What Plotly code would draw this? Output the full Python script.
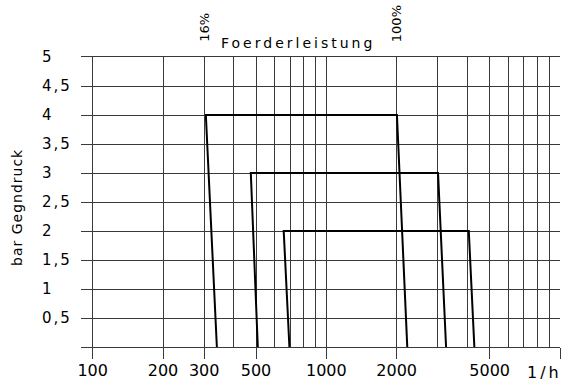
import plotly.graph_objects as go
import math

# Data
curve_pressure = [4, 3, 2]
curve_x = [
    [340, 305, 2005, 2220],
    [509, 475, 3006, 3254],
    [695, 657, 4070, 4300],
]
curve_y = [
    [0, 4, 4, 0],
    [0, 3, 3, 0],
    [0, 2, 2, 0],
]
x_tick_vals = [100, 200, 300, 500, 1000, 2000, 5000, 10000]
x_tick_text = ["100", "200", "300", "500", "1000", "2000", "5000", ""]
x_grid_minor = [400, 600, 700, 800, 900, 3000, 4000, 6000, 7000, 8000, 9000]
y_tick_vals = [0.5, 1, 1.5, 2, 2.5, 3, 3.5, 4, 4.5, 5]
y_tick_text = ["0,5", "1", "1,5", "2", "2,5", "3", "3,5", "4", "4,5", "5"]
pct_labels = [("16%", 300), ("100%", 2000)]

FONT = "DejaVu Sans"
GRID = "#3a3a3a"

fig = go.Figure()
for xs, ys in zip(curve_x, curve_y):
    fig.add_trace(go.Scatter(x=xs, y=ys, mode="lines",
                             line=dict(color="black", width=2),
                             showlegend=False, hoverinfo="skip"))

fig.update_layout(
    template="none",
    width=568, height=383,
    margin=dict(l=81, r=8, t=57, b=36, autoexpand=False),
    paper_bgcolor="white", plot_bgcolor="white",
    font=dict(family=FONT, color="black"),
    showlegend=False,
)
fig.update_xaxes(
    type="log", range=[1.95, 4.0], automargin=False,
    tickmode="array", tickvals=x_tick_vals, ticktext=x_tick_text,
    ticks="outside", ticklen=11, tickcolor=GRID, tickwidth=1,
    ticklabelstandoff=-2,
    tickfont=dict(family=FONT, size=16, color="black"),
    showgrid=True, gridcolor=GRID, gridwidth=1,
    minor=dict(tickmode="array", tickvals=x_grid_minor, showgrid=True,
               gridcolor=GRID, gridwidth=1, ticks=""),
    showline=True, mirror=True, linecolor=GRID, linewidth=1,
    zeroline=False,
)
fig.update_yaxes(
    range=[0, 5], automargin=False, tickmode="array", tickvals=y_tick_vals,
    showticklabels=False, ticks="",
    showgrid=True, gridcolor=GRID, gridwidth=1,
    zeroline=False, showline=False,
)

annotations = []
for v, t in zip(y_tick_vals, y_tick_text):
    annotations.append(dict(
        x=0, xref="paper", y=v, yref="y", xanchor="left", yanchor="middle",
        xshift=-41, showarrow=False,
        text='<span style="letter-spacing:2px">%s</span>' % t,
        font=dict(family=FONT, size=15, color="black")))
for t, xv in pct_labels:
    annotations.append(dict(
        x=math.log10(xv), xref="x", y=1, yref="paper", yanchor="bottom",
        xanchor="center", yshift=13, textangle=-90, showarrow=False,
        text=t, font=dict(family=FONT, size=13, color="black")))
annotations.append(dict(
    x=0.454, xref="paper", xanchor="center", y=1, yref="paper",
    yanchor="bottom", yshift=4, showarrow=False,
    text='<span style="letter-spacing:3px">Foerderleistung</span>',
    font=dict(family=FONT, size=14, color="black")))
annotations.append(dict(
    x=0, xref="paper", xanchor="center", xshift=-64, y=0.5, yref="paper",
    yanchor="middle", yshift=-6, textangle=-90, showarrow=False,
    text='<span style="letter-spacing:1px">bar Gegndruck</span>',
    font=dict(family=FONT, size=14, color="black")))
annotations.append(dict(
    x=1, xref="paper", xanchor="right", xshift=4, y=0, yref="paper",
    yanchor="top", yshift=-14, showarrow=False,
    text='<span style="letter-spacing:3px">1/h</span>',
    font=dict(family=FONT, size=16, color="black")))
fig.update_layout(annotations=annotations)

fig.write_html("out.html",
               config={"displayModeBar": False, "staticPlot": True},
               post_script="document.body.style.margin='0';document.body.style.padding='0';")
